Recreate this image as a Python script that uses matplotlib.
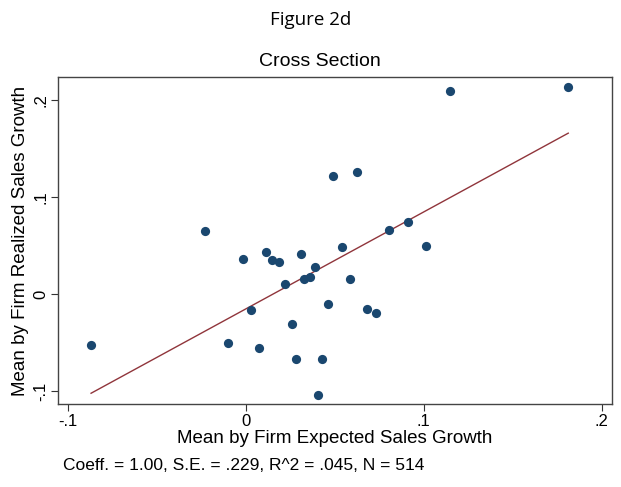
import matplotlib
matplotlib.use("Agg")
import matplotlib.pyplot as plt
import numpy as np

# firm-level means (expected vs realized sales growth)
expected = [-0.0869, -0.0229, -0.0017, 0.0116, 0.0150, 0.0189, 0.0309, 0.0388,
            0.0329, 0.0363, 0.0221, 0.0031, -0.0099, 0.0073, 0.0262, 0.0284,
            0.0408, 0.1148, 0.1812, 0.0492, 0.0627, 0.0912, 0.0803, 0.1011,
            0.0541, 0.0588, 0.0464, 0.0681, 0.0732, 0.0430]
realized = [-0.0523, 0.0653, 0.0361, 0.0433, 0.0354, 0.0336, 0.0419, 0.0278,
            0.0158, 0.0181, 0.0103, -0.0158, -0.0499, -0.0557, -0.0309, -0.0670,
            -0.1038, 0.2093, 0.2137, 0.1223, 0.1261, 0.0742, 0.0660, 0.0498,
            0.0484, 0.0155, -0.0103, -0.0155, -0.0193, -0.0670]

fit_slope = 1.00
fit_intercept = -0.0151

xticks = [-0.1, 0, 0.1, 0.2]
xticklabels = ["-.1", "0", ".1", ".2"]
yticks = [-0.1, 0, 0.1, 0.2]
yticklabels = ["-.1", "0", ".1", ".2"]

NAVY, MAROON = "#1a476f", "#90353b"
plt.rcParams["font.family"] = ["Liberation Sans", "DejaVu Sans"]

fig = plt.figure(figsize=(6.21, 4.87), dpi=100)
ax = fig.add_axes([0.0939, 0.1698, 0.8911, 0.6715])

ax.scatter(expected, realized, s=44, color=NAVY, linewidths=0, zorder=3)
xl = np.array([min(expected), max(expected)])
ax.plot(xl, fit_intercept + fit_slope * xl, color=MAROON, lw=1.0, zorder=2)

ax.set_xlim(-0.1053, 0.2056)
ax.set_ylim(-0.1134, 0.2237)
ax.set_xticks(xticks)
ax.set_xticklabels(xticklabels)
ax.set_yticks(yticks)
ax.set_yticklabels(yticklabels, rotation=90, va="center")
ax.tick_params(labelsize=12, length=5, width=0.8, color="#333333", pad=2)
for s in ax.spines.values():
    s.set_color("#444444")
    s.set_linewidth(1.0)

ax.set_xlabel("Mean by Firm Expected Sales Growth", fontsize=13.5, labelpad=1)
ax.set_ylabel("Mean by Firm Realized Sales Growth", fontsize=13.5, labelpad=3)

fig.text(311 / 621, 1 - 20 / 487, "Figure 2d", ha="center", va="center",
         fontsize=13.5, family=["Open Sans", "DejaVu Sans"])
fig.text(320 / 621, 1 - 62 / 487, "Cross Section", ha="center", va="center",
         fontsize=14)
fig.text(63 / 621, 1 - 466 / 487, "Coeff. = 1.00, S.E. = .229, R^2 = .045, N = 514",
         ha="left", va="center", fontsize=12.5)

fig.savefig("out.png", dpi=100)
